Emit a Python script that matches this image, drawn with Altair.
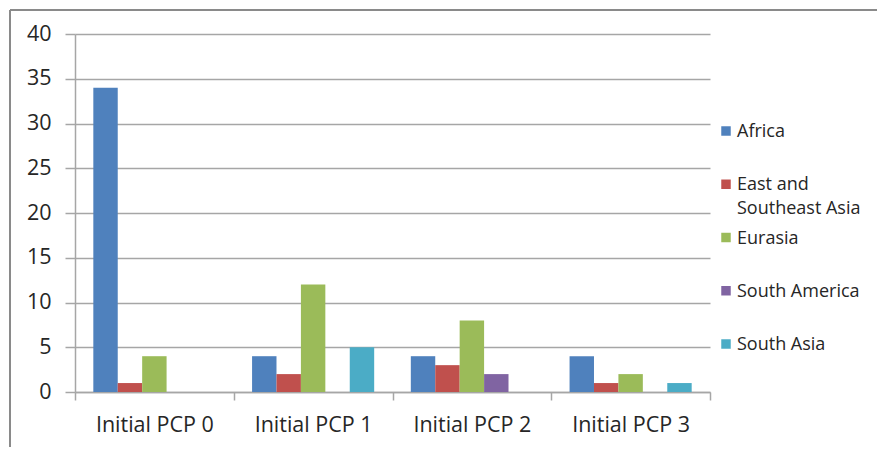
import altair as alt
import pandas as pd

categories = ["Initial PCP 0", "Initial PCP 1", "Initial PCP 2", "Initial PCP 3"]
series = ["Africa", "East and Southeast Asia", "Eurasia", "South America", "South Asia"]
colors = ["#4F81BD", "#C0504D", "#9BBB59", "#8064A2", "#4BACC6"]
values = {
    "Africa": [34, 4, 4, 4],
    "East and Southeast Asia": [1, 2, 3, 1],
    "Eurasia": [4, 12, 8, 2],
    "South America": [0, 0, 2, 0],
    "South Asia": [0, 5, 0, 1],
}

rows = []
for s in series:
    for c, v in zip(categories, values[s]):
        rows.append({"pcp": c, "series": s, "value": v})
df = pd.DataFrame(rows)
legend_df = pd.DataFrame({"series": series})

FONT = "Open Sans"
GRID = "#a6a6a6"
TEXT = "#262626"
W, H = 635, 358

color_scale = alt.Scale(domain=series, range=colors)

bars = alt.Chart(df).mark_bar().encode(
    x=alt.X("pcp:N", sort=categories,
            scale=alt.Scale(paddingInner=0, paddingOuter=0),
            axis=alt.Axis(title=None, labelAngle=0, labelFont=FONT, labelFontSize=21.5,
                          labelColor=TEXT, labelPadding=14, tickBand="extent",
                          tickSize=8, tickColor=GRID, tickWidth=1.5,
                          domainColor=GRID, domainWidth=1.5, grid=False)),
    xOffset=alt.XOffset("series:N", sort=series,
                        scale=alt.Scale(paddingInner=0, paddingOuter=0.75)),
    y=alt.Y("value:Q", scale=alt.Scale(domain=[0, 40], nice=False),
            axis=alt.Axis(title=None, values=list(range(0, 41, 5)), labelFont=FONT,
                          labelFontSize=21.5, labelColor=TEXT, labelPadding=14,
                          tickSize=10, tickColor=GRID, tickWidth=1.5,
                          domainColor=GRID, domainWidth=1.5,
                          gridColor=GRID, gridWidth=1.5)),
    color=alt.Color("series:N", scale=color_scale, legend=None),
)

leg_y = alt.Y("series:N", sort=series,
              scale=alt.Scale(type="point", domain=series, range=[97, 310], padding=0),
              axis=None)

leg_sym = alt.Chart(legend_df).mark_square(size=90, opacity=1).encode(
    x=alt.value(651),
    y=leg_y,
    color=alt.Color("series:N", scale=color_scale, legend=None),
)

leg_txt = alt.Chart(legend_df).transform_calculate(
    lab="replace(datum.series, 'and ', 'and\\n')"
).mark_text(align="left", baseline="top", dy=-8, font=FONT, fontSize=18,
            color=TEXT, lineBreak="\n", lineHeight=24).encode(
    x=alt.value(662),
    y=leg_y,
    text="lab:N",
)

frame_top = alt.Chart(legend_df).mark_rule(color="#8a8a8a", strokeWidth=1.5).encode(
    x=alt.value(-65), x2=alt.value(802), y=alt.value(-24)
)
frame_left = alt.Chart(legend_df).mark_rule(color="#8a8a8a", strokeWidth=1.5).encode(
    x=alt.value(-65), y=alt.value(-24), y2=alt.value(413)
)

chart = alt.layer(bars, leg_sym, leg_txt, frame_top, frame_left).resolve_scale(
    x="independent", y="independent"
).properties(
    width=W, height=H,
    autosize=alt.AutoSizeParams(type="none"),
    padding={"left": 67, "top": 26, "right": 167, "bottom": 55},
    background="white",
).configure_view(stroke=None)

chart.save("out.html", embed_options={"renderer": "svg", "actions": False})
